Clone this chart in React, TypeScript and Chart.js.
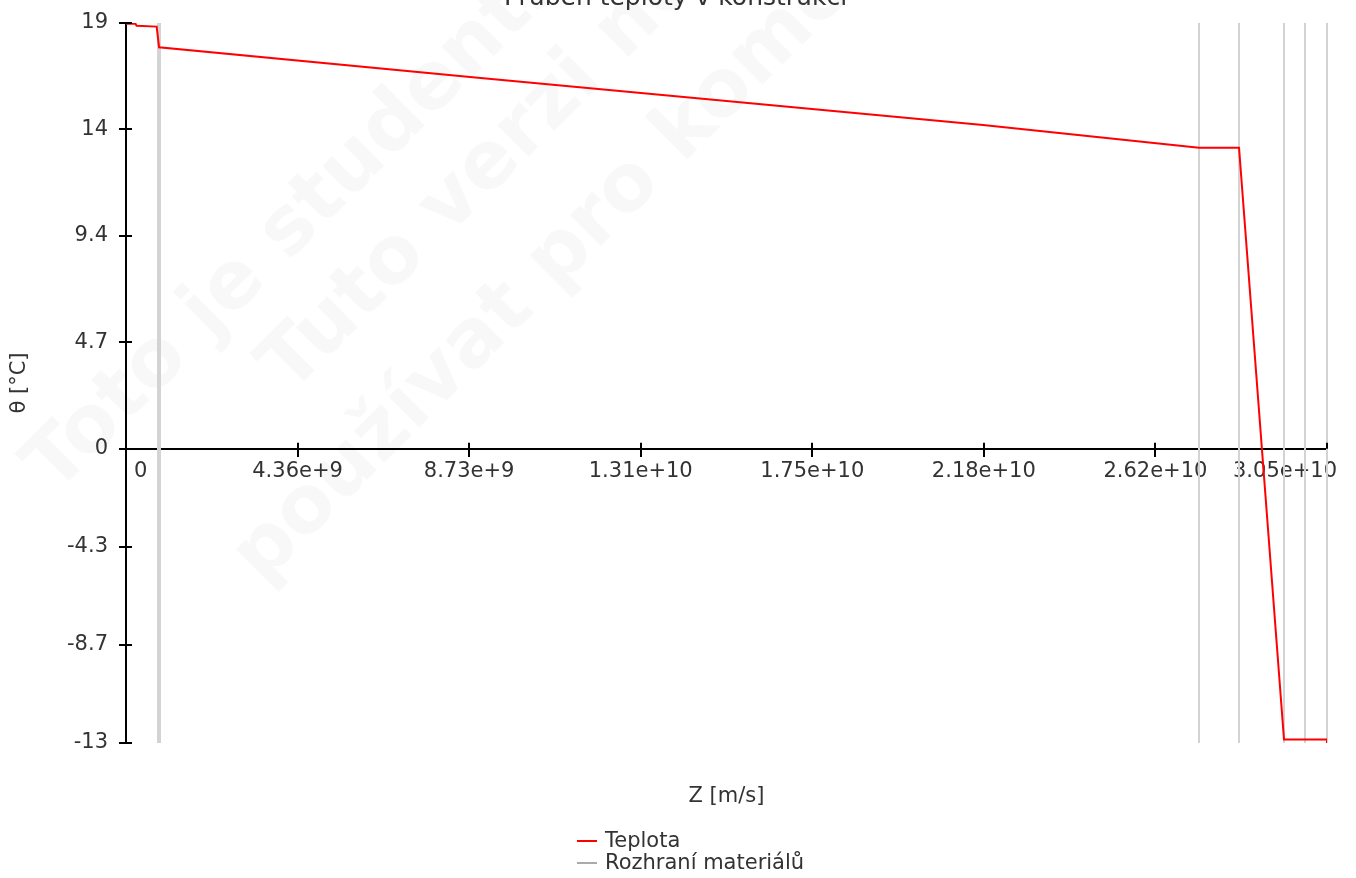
import React, { useEffect, useRef } from 'react';
import { Chart, registerables } from 'chart.js';

Chart.register(...registerables);

// ---------- data ----------
const chartTitle = 'Průběh teploty v konstrukci';
const xAxisTitle = 'Z [m/s]';
const yAxisTitle = 'θ [°C]';
const tempLabel = 'Teplota';
const interfaceLabel = 'Rozhraní materiálů';

const tempX = [0, 2.4e8, 2.7e8, 7.8e8, 8.4e8, 8.748e9, 2.1793e10, 2.7285e10, 2.8303e10, 2.9447e10, 3.054e10, 3.054e10];
const tempY = [18.77, 18.77, 18.68, 18.64, 17.73, 16.41, 14.29, 13.29, 13.29, -12.85, -12.85, -13.0];

const interfaceX = [8.14e8, 8.65e8, 2.7285e10, 2.8303e10, 2.9447e10, 2.9981e10, 3.054e10];

const xMin = 0;
const xMax = 3.054e10;
const yMin = -13;
const yMax = 18.8;

const xTickValues = [0, 4.363e9, 8.726e9, 1.3089e10, 1.7451e10, 2.1814e10, 2.6177e10, 3.054e10];
const xTickLabels = ['0', '4.36e+9', '8.73e+9', '1.31e+10', '1.75e+10', '2.18e+10', '2.62e+10', '3.05e+10'];
const yTickValues = [-13, -8.667, -4.333, 0, 4.7, 9.4, 14.1, 18.8];
const yTickLabels = ['-13', '-8.7', '-4.3', '0', '4.7', '9.4', '14', '19'];

const watermarkLines = ['Toto je studentská verze', 'Tuto verzi nelze', 'používat pro komerční účely'];

// ---------- styles ----------
const FAMILY = "'DejaVu Sans', sans-serif";
const TEXT = '#333333';
const SHIFT = 30; // canvas is moved up so the title is cut at the page top
const RED = 'rgb(255,0,0)';
const GRAY = 'rgb(211,211,211)';

const watermarkPlugin = {
  id: 'watermarkPlugin',
  beforeDraw(chart: any) {
    const ctx = chart.ctx;
    ctx.save();
    ctx.fillStyle = 'rgba(0,0,0,0.028)';
    ctx.font = `bold 80px ${FAMILY}`;
    ctx.textBaseline = 'alphabetic';
    ctx.textAlign = 'left';
    const anchors = [[55, 495], [290, 395], [262, 585]];
    watermarkLines.forEach((t, i) => {
      ctx.save();
      ctx.translate(anchors[i][0], anchors[i][1] + SHIFT);
      ctx.rotate(-Math.PI / 4);
      ctx.fillText(t, 0, 0);
      ctx.restore();
    });
    ctx.restore();
  },
};

// nudges the first / last x tick labels and the title, as in the reference
const adjustPlugin = {
  id: 'adjustPlugin',
  afterLayout(chart: any) {
    const tb = chart.titleBlock;
    if (tb) {
      tb.left += 12;
      tb.right += 12;
    }
  },
  beforeDraw(chart: any) {
    const xs = chart.scales.x;
    const items = xs.getLabelItems();
    if (!items || !items.length || items._adjusted) return;
    items[0].options.translation[0] += 8;
    items[items.length - 1].options.translation[0] += 10;
    items._adjusted = true;
  },
};

const tickStubPlugin = {
  id: 'tickStubPlugin',
  afterDraw(chart: any) {
    const ctx = chart.ctx;
    const xs = chart.scales.x;
    const ys = chart.scales.y;
    const axisX = chart.chartArea.left;
    const axisY = ys.getPixelForValue(0);
    ctx.save();
    ctx.strokeStyle = '#000';
    ctx.lineWidth = 2;
    ctx.beginPath();
    ys.ticks.forEach((t: any) => {
      const y = Math.round(ys.getPixelForValue(t.value));
      ctx.moveTo(axisX, y);
      ctx.lineTo(axisX + 6, y);
    });
    xs.ticks.forEach((t: any, i: number) => {
      if (i === 0) return;
      const x = Math.round(xs.getPixelForValue(t.value));
      ctx.moveTo(x, axisY);
      ctx.lineTo(x, axisY - 6);
    });
    ctx.stroke();
    ctx.restore();
  },
};

const legendPlugin = {
  id: 'customLegend',
  afterDraw(chart: any) {
    const ctx = chart.ctx;
    const colors = [RED, '#aaaaaa'];
    ctx.save();
    ctx.font = `21px ${FAMILY}`;
    ctx.textBaseline = 'middle';
    ctx.textAlign = 'left';
    chart.data.datasets.forEach((ds: any, i: number) => {
      const y = 841 + i * 22 + SHIFT;
      ctx.strokeStyle = colors[i];
      ctx.lineWidth = 2;
      ctx.beginPath();
      ctx.moveTo(577, y);
      ctx.lineTo(597, y);
      ctx.stroke();
      ctx.fillStyle = TEXT;
      ctx.fillText(ds.label, 605, y + 1);
    });
    ctx.restore();
  },
};

export default function App() {
  const canvasRef = useRef<HTMLCanvasElement | null>(null);

  useEffect(() => {
    if (!canvasRef.current) return;
    const tempData = tempX.map((x, i) => ({ x, y: tempY[i] }));
    const ifaceData: any[] = [];
    interfaceX.forEach((x) => {
      ifaceData.push({ x, y: yMin }, { x, y: yMax }, { x, y: null });
    });
    const font = { family: FAMILY, size: 21 };

    const chart = new Chart(canvasRef.current, {
      type: 'line',
      data: {
        datasets: [
          {
            label: tempLabel,
            data: tempData,
            borderColor: RED,
            backgroundColor: RED,
            borderWidth: 2,
            pointRadius: 0,
            tension: 0,
            fill: false,
          },
          {
            label: interfaceLabel,
            data: ifaceData,
            borderColor: GRAY,
            backgroundColor: GRAY,
            borderWidth: 2,
            pointRadius: 0,
            tension: 0,
            fill: false,
            spanGaps: false,
            clip: false,
          } as any,
        ],
      },
      options: {
        responsive: false,
        animation: false,
        layout: { padding: { top: 0, right: 29, bottom: 135, left: 0 } },
        plugins: {
          legend: { display: false },
          tooltip: { enabled: false },
          title: {
            display: true,
            text: chartTitle,
            color: TEXT,
            font: { family: FAMILY, size: 25, weight: 'normal' },
            padding: { top: 13, bottom: 10 },
          },
        },
        scales: {
          x: {
            type: 'linear',
            position: { y: 0 } as any,
            min: xMin,
            max: xMax,
            afterBuildTicks: (s: any) => {
              s.ticks = xTickValues.map((v) => ({ value: v }));
            },
            afterFit: (s: any) => {
              s.height = 364;
            },
            ticks: {
              autoSkip: false,
              maxRotation: 0,
              minRotation: 0,
              align: 'inner',
              padding: 3,
              color: TEXT,
              font,
              callback: (_v: any, i: number) => xTickLabels[i],
            },
            grid: { drawOnChartArea: false, drawTicks: true, tickLength: 7, color: '#000', lineWidth: 2 },
            border: { display: true, color: '#000', width: 2 },
            title: { display: true, text: xAxisTitle, color: TEXT, font, padding: { top: 4, bottom: 4 } },
          },
          y: {
            type: 'linear',
            position: 'left',
            min: yMin,
            max: yMax,
            afterBuildTicks: (s: any) => {
              s.ticks = yTickValues.map((v) => ({ value: v }));
            },
            afterFit: (s: any) => {
              s.width = 126;
            },
            ticks: {
              autoSkip: false,
              padding: 11,
              color: TEXT,
              font,
              callback: (_v: any, i: number) => yTickLabels[i],
            },
            grid: { drawOnChartArea: false, drawTicks: true, tickLength: 7, color: '#000', lineWidth: 2 },
            border: { display: true, color: '#000', width: 2 },
            title: { display: true, text: yAxisTitle, color: TEXT, font, padding: { top: 7, bottom: 4 } },
          },
        },
      } as any,
      plugins: [watermarkPlugin, adjustPlugin, tickStubPlugin, legendPlugin],
    });

    return () => chart.destroy();
  }, []);

  return (
    <div style={{ position: 'absolute', left: 0, top: -SHIFT, width: 1356, height: 878 + SHIFT, overflow: 'hidden' }}>
      <canvas ref={canvasRef} width={1356} height={878 + SHIFT} style={{ display: 'block' }} />
    </div>
  );
}
